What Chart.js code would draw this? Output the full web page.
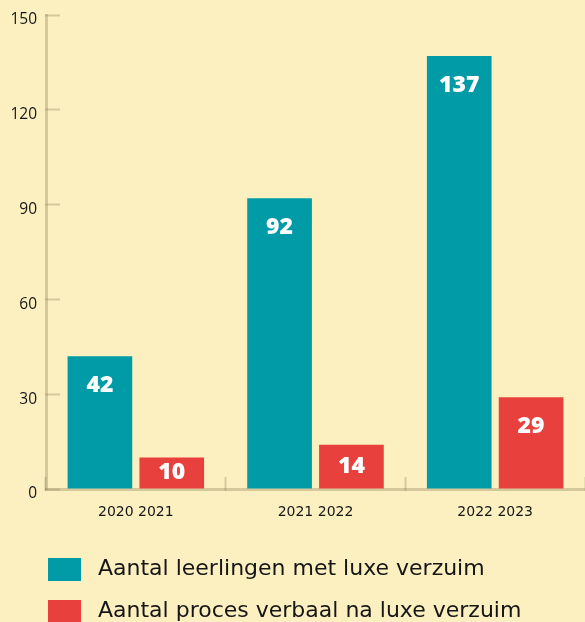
<!DOCTYPE html>
<html>
<head>
<meta charset="utf-8">
<script src="https://cdn.jsdelivr.net/npm/chart.js@4"></script>
<style>
  html, body { margin: 0; padding: 0; background: #fcf0c1; }
  #wrap { width: 585px; height: 622px; position: relative; }
</style>
</head>
<body>
<div id="wrap"><canvas id="c" width="585" height="622"></canvas></div>
<script>
const categories = ['2020 2021', '2021 2022', '2022 2023'];
const seriesNames = ['Aantal leerlingen met luxe verzuim', 'Aantal proces verbaal na luxe verzuim'];
const leerlingen = [42, 92, 137];
const procesVerbaal = [10, 14, 29];
const yTicks = [0, 30, 60, 90, 120, 150];

const TEAL = '#009ba7';
const RED = '#e8403d';
const AXIS = 'rgba(150,138,95,0.38)';

function swatch(color) {
  const c = document.createElement('canvas');
  c.width = 33; c.height = 23;
  const g = c.getContext('2d');
  g.fillStyle = color;
  g.fillRect(0, 0, 33, 23);
  return c;
}

const barLabels = {
  id: 'barLabels',
  afterDatasetsDraw(chart) {
    const ctx = chart.ctx;
    ctx.save();
    ctx.fillStyle = '#ffffff';
    ctx.font = '800 23px "Open Sans"';
    ctx.textAlign = 'center';
    ctx.textBaseline = 'middle';
    chart.data.datasets.forEach((ds, di) => {
      const meta = chart.getDatasetMeta(di);
      meta.data.forEach((bar, i) => {
        const h = bar.base - bar.y;
        const off = Math.min(29, h / 2);
        ctx.fillText(String(ds.data[i]), bar.x, bar.y + off);
      });
    });
    ctx.restore();
  }
};

const legendShift = {
  id: 'legendShift',
  afterLayout(chart) {
    const lg = chart.legend;
    if (lg) { lg.left += 22; lg.top += 10; }
  }
};

new Chart(document.getElementById('c'), {
  type: 'bar',
  data: {
    labels: categories,
    datasets: [
      { label: seriesNames[0], data: leerlingen, backgroundColor: TEAL, borderWidth: 0,
        categoryPercentage: 0.8, barPercentage: 0.9 },
      { label: seriesNames[1], data: procesVerbaal, backgroundColor: RED, borderWidth: 0,
        categoryPercentage: 0.8, barPercentage: 0.9 }
    ]
  },
  options: {
    responsive: false,
    animation: false,
    devicePixelRatio: 1,
    layout: { padding: { top: 15, left: 0, right: 0, bottom: 0 } },
    plugins: {
      legend: {
        position: 'bottom',
        align: 'start',
        labels: {
          usePointStyle: true,
          pointStyleWidth: 45,
          padding: 20,
          color: '#161616',
          font: { family: '"DejaVu Sans"', size: 22 },
          generateLabels(chart) {
            const items = Chart.defaults.plugins.legend.labels.generateLabels(chart);
            return items.map((it, i) => Object.assign(it, {
              pointStyle: swatch(chart.data.datasets[i].backgroundColor)
            }));
          }
        }
      },
      tooltip: { enabled: false }
    },
    scales: {
      x: {
        afterFit: (s) => { s.height = 39; s.paddingLeft = 0; s.paddingRight = 0; },
        grid: {
          display: true,
          drawOnChartArea: false,
          drawTicks: true,
          tickLength: -12,
          tickWidth: 2,
          tickColor: AXIS,
          offset: true
        },
        border: { display: true, color: AXIS, width: 3 },
        ticks: {
          color: '#161616',
          padding: 27,
          font: { family: '"DejaVu Sans"', size: 14 }
        }
      },
      y: {
        min: 0,
        max: 150,
        afterFit: (s) => { s.width = 46; s.paddingTop = 0; s.paddingBottom = 0; },
        afterBuildTicks: (s) => { s.ticks = yTicks.map(v => ({ value: v })); },
        grid: {
          display: true,
          drawOnChartArea: false,
          drawTicks: true,
          tickLength: -14,
          tickWidth: 2,
          tickColor: AXIS
        },
        border: { display: true, color: AXIS, width: 3 },
        ticks: {
          color: '#161616',
          padding: 23,
          labelOffset: 5,
          callback: (v) => String(v),
          font: { family: '"Open Sans"', size: 15.5 }
        }
      }
    }
  },
  plugins: [barLabels, legendShift]
});
</script>
</body>
</html>
